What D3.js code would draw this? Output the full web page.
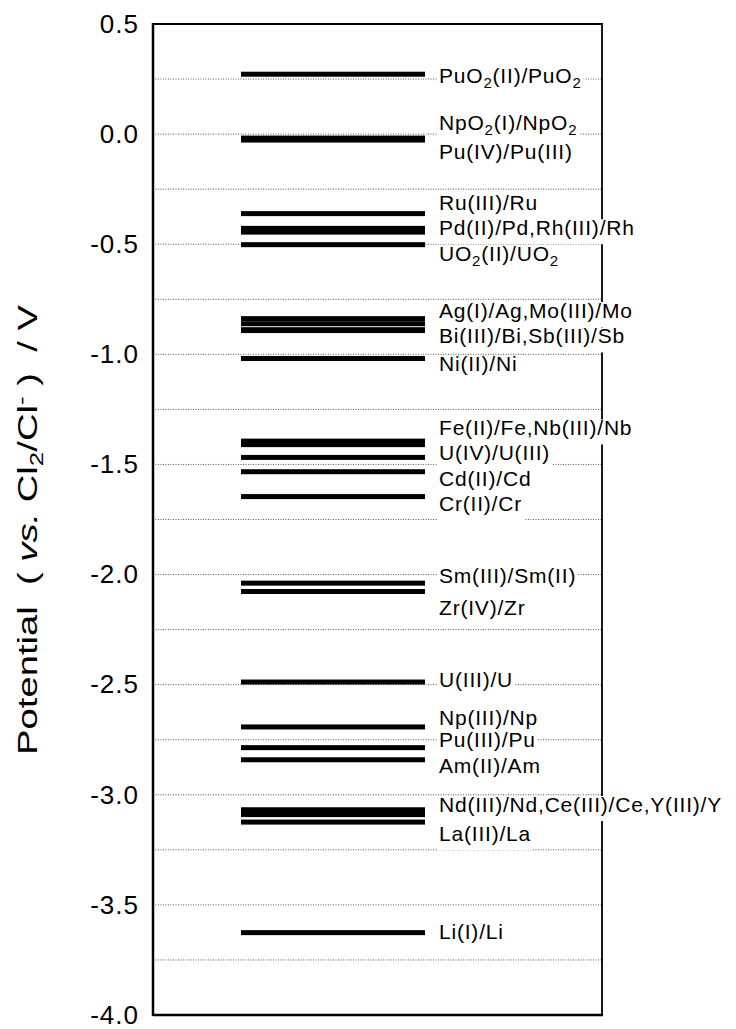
<!DOCTYPE html>
<html><head><meta charset="utf-8">
<script src="https://cdn.jsdelivr.net/npm/d3@7"></script>
<style>body{margin:0;background:#fff} svg{display:block;font-family:"Liberation Sans",Arial,Helvetica,sans-serif}</style>
</head><body><svg id="c" width="736" height="1029"></svg>
<script>
// Redox couples and their potentials (V vs. Cl2/Cl-)
const couples = ["PuO2(II)/PuO2","NpO2(I)/NpO2","Pu(IV)/Pu(III)","Ru(III)/Ru","Pd(II)/Pd","Rh(III)/Rh","UO2(II)/UO2",
  "Ag(I)/Ag","Mo(III)/Mo","Bi(III)/Bi","Sb(III)/Sb","Ni(II)/Ni","Fe(II)/Fe","Nb(III)/Nb","U(IV)/U(III)","Cd(II)/Cd","Cr(II)/Cr",
  "Sm(III)/Sm(II)","Zr(IV)/Zr","U(III)/U","Np(III)/Np","Pu(III)/Pu","Am(II)/Am","Nd(III)/Nd","Ce(III)/Ce","Y(III)/Y","La(III)/La","Li(I)/Li"];
const potentials = [0.272,-0.018,-0.027,-0.361,-0.428,-0.445,-0.502,
  -0.838,-0.861,-0.888,-0.892,-1.019,-1.394,-1.410,-1.468,-1.533,-1.646,
  -2.039,-2.077,-2.488,-2.692,-2.786,-2.841,-3.068,-3.079,-3.090,-3.124,-3.626];
// Label texts ("_2" = subscript) and the potential at which each label is placed
const labelTexts = ["PuO_2(II)/PuO_2","NpO_2(I)/NpO_2","Pu(IV)/Pu(III)","Ru(III)/Ru","Pd(II)/Pd,Rh(III)/Rh","UO_2(II)/UO_2",
  "Ag(I)/Ag,Mo(III)/Mo","Bi(III)/Bi,Sb(III)/Sb","Ni(II)/Ni","Fe(II)/Fe,Nb(III)/Nb","U(IV)/U(III)","Cd(II)/Cd","Cr(II)/Cr",
  "Sm(III)/Sm(II)","Zr(IV)/Zr","U(III)/U","Np(III)/Np","Pu(III)/Pu","Am(II)/Am","Nd(III)/Nd,Ce(III)/Ce,Y(III)/Y","La(III)/La","Li(I)/Li"];
const labelAt = [0.266,0.054,-0.079,-0.310,-0.423,-0.543,-0.799,-0.914,-1.043,-1.332,-1.446,-1.565,-1.676,
  -2.005,-2.149,-2.475,-2.649,-2.747,-2.868,-3.042,-3.174,-3.622];
const tickValues = [0.5,0.0,-0.5,-1.0,-1.5,-2.0,-2.5,-3.0,-3.5,-4.0];
const tickLabels = ["0.5","0.0","-0.5","-1.0","-1.5","-2.0","-2.5","-3.0","-3.5","-4.0"];
const gridValues = [0.25,0,-0.25,-0.5,-0.75,-1.0,-1.25,-1.5,-1.75,-2.0,-2.25,-2.5,-2.75,-3.0,-3.25,-3.5,-3.75];

const svg = d3.select("#c");
const L = 153, R = 602, T = 24, B = 1015;
const y = d3.scaleLinear().domain([0.5,-4.0]).range([T,B]);
const x = d3.scaleLinear().domain([0,1]).range([241,425]);

// grid
svg.append("g").selectAll("line").data(gridValues).join("line")
  .attr("x1",L).attr("x2",R).attr("y1",d=>y(d)).attr("y2",d=>y(d))
  .attr("stroke","#444").attr("stroke-width",0.9).attr("stroke-dasharray","1,1.5");

// right frame line (under labels)
svg.append("line").attr("x1",R).attr("x2",R).attr("y1",T).attr("y2",B).attr("stroke","#000").attr("stroke-width",1.8);

// bars
svg.append("g").selectAll("rect").data(potentials).join("rect")
  .attr("x",x(0)).attr("width",x(1)-x(0)).attr("y",d=>y(d)-2.5).attr("height",5).attr("fill","#000");

// labels
const lg = svg.append("g");
const bgG = lg.append("g"), txG = lg.append("g");
labelTexts.forEach((t,i)=>{
  const by = y(labelAt[i]) + 7.5;
  const tx = txG.append("text").attr("x",439).attr("y",by).attr("font-size",21).attr("letter-spacing",0.8).attr("fill","#000");
  t.split(/(_\d)/).filter(s=>s.length).forEach(s=>{
    if (s[0]==="_") tx.append("tspan").attr("font-size",15).attr("baseline-shift","-5").text(s.slice(1));
    else tx.append("tspan").text(s);
  });
  const bb = tx.node().getBBox();
  bgG.append("rect").attr("x",bb.x-2).attr("width",bb.width+4).attr("y",by-15.5).attr("height",25).attr("fill","#fff");
});

// left axis
const ax = svg.append("g").attr("transform",`translate(${L},0)`)
  .call(d3.axisLeft(y).tickValues(tickValues).tickSize(0).tickPadding(14).tickFormat((d,i)=>tickLabels[i]));
ax.select(".domain").remove();
ax.selectAll("text").attr("font-size",26).attr("letter-spacing",1).attr("fill","#000")
  .attr("font-family","'Liberation Sans',Arial,sans-serif");

// frame
svg.append("line").attr("x1",L).attr("x2",L).attr("y1",T-1).attr("y2",B+1).attr("stroke","#000").attr("stroke-width",2.5);
svg.append("line").attr("x1",L).attr("x2",R+1).attr("y1",T).attr("y2",T).attr("stroke","#000").attr("stroke-width",2);
svg.append("line").attr("x1",L).attr("x2",R+1).attr("y1",B).attr("y2",B).attr("stroke","#000").attr("stroke-width",2.5);

// axis title
const title = svg.append("text").attr("font-size",28).attr("fill","#000").style("white-space","pre")
  .attr("text-anchor","middle");
title.append("tspan").text("Potential  ( ");
title.append("tspan").attr("font-style","italic").text("vs.");
title.append("tspan").text(" Cl");
title.append("tspan").attr("font-size",19).attr("baseline-shift","-6").text("2");
title.append("tspan").text("/Cl");
title.append("tspan").attr("font-size",19).attr("baseline-shift","9").text("-");
title.append("tspan").text(" )  / V");
const tw = title.node().getComputedTextLength();
const sx = 450/tw;
title.attr("transform",`translate(37,530) rotate(-90) scale(${sx},1)`);
</script></body></html>
